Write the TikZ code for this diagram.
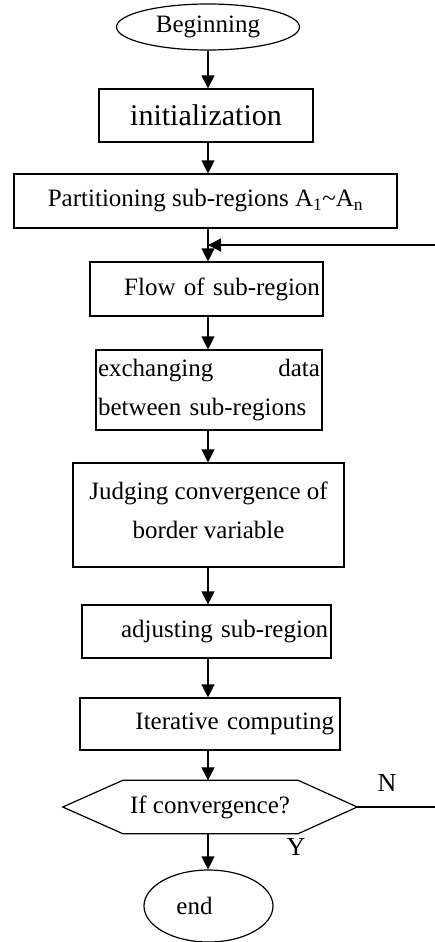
\documentclass[tikz,border=0pt]{standalone}
\usepackage{fontspec}
\setmainfont{Liberation Serif}
\usetikzlibrary{arrows.meta,shapes.geometric}
\begin{document}
\begin{tikzpicture}[x=1pt,y=-1pt,
  every node/.style={font=\fontsize{25}{39}\selectfont},
  box/.style={draw,line width=1.2pt,rectangle,inner sep=0pt},
  oval/.style={draw,line width=1.2pt,ellipse,inner sep=0pt},
  arr/.style={line width=1.2pt,-{Triangle[length=13pt,width=13pt]}},
  ln/.style={line width=1.2pt},
  lab/.style={font=\fontsize{26}{30}\selectfont,inner sep=0pt}]
\useasboundingbox (0,0) rectangle (435,942);
\node[oval,minimum width=183pt,minimum height=46pt] (begin) at (208,27) {Beginning};
\node[box,minimum width=214pt,minimum height=53pt,font=\fontsize{30}{36}\selectfont] (init) at (206,115.5) {initialization};
\node[box,minimum width=383pt,minimum height=54pt] (part) at (205.5,201) {Partitioning sub-regions A\textsubscript{1}\textasciitilde A\textsubscript{n}};
\node[box,minimum width=233pt,minimum height=54pt,text width=227pt,align=right] (flow) at (206.5,289) {Flow of sub-region};
\node[box,minimum width=226pt,minimum height=80pt,text width=222pt,align=left] (exch) at (209,390) {exchanging\hfill data\\between sub-regions};
\node[box,minimum width=271pt,minimum height=104pt,align=center] (judge) at (208.5,515) {Judging convergence of\\border variable\\[-29pt]};
\node[box,minimum width=249pt,minimum height=53pt,text width=243pt,align=right] (adj) at (206.5,631.5) {adjusting sub-region};
\node[box,minimum width=260pt,minimum height=52pt,text width=248pt,align=right] (iter) at (210,724) {Iterative computing};
\node[minimum width=294pt,minimum height=53pt,inner sep=0pt] (dec) at (210,807) {If convergence?};
\draw[ln] (dec.west) -- ([xshift=60pt]dec.north west) -- ([xshift=-59pt]dec.north east) -- (dec.east) -- ([xshift=-59pt]dec.south east) -- ([xshift=60pt]dec.south west) -- cycle;
\node[oval,minimum width=129pt,minimum height=72pt] (endn) at (208.5,906) {end\hspace*{28pt}};
\coordinate (fbR) at (435,245);
\coordinate (nR) at (435,807);
\draw[arr] (begin.south) -- (init.north -| begin.south);
\draw[arr] (init.south -| begin.south) -- (part.north -| begin.south);
\draw[arr] (part.south -| begin.south) -- (flow.north -| begin.south);
\draw[arr] (fbR) -- (fbR -| begin.south);
\draw[arr] (flow.south -| begin.south) -- (exch.north -| begin.south);
\draw[arr] (exch.south -| begin.south) -- (judge.north -| begin.south);
\draw[arr] (judge.south -| begin.south) -- (adj.north -| begin.south);
\draw[arr] (adj.south -| begin.south) -- (iter.north -| begin.south);
\draw[arr] (iter.south -| begin.south) -- (dec.north -| begin.south);
\draw[arr] (dec.south -| begin.south) -- (endn.north -| begin.south);
\draw[ln] (dec.east) -- (nR);
\node[lab] (N) at (387,783) {N};
\node[lab] (Y) at (296,847) {Y};
\end{tikzpicture}
\end{document}
